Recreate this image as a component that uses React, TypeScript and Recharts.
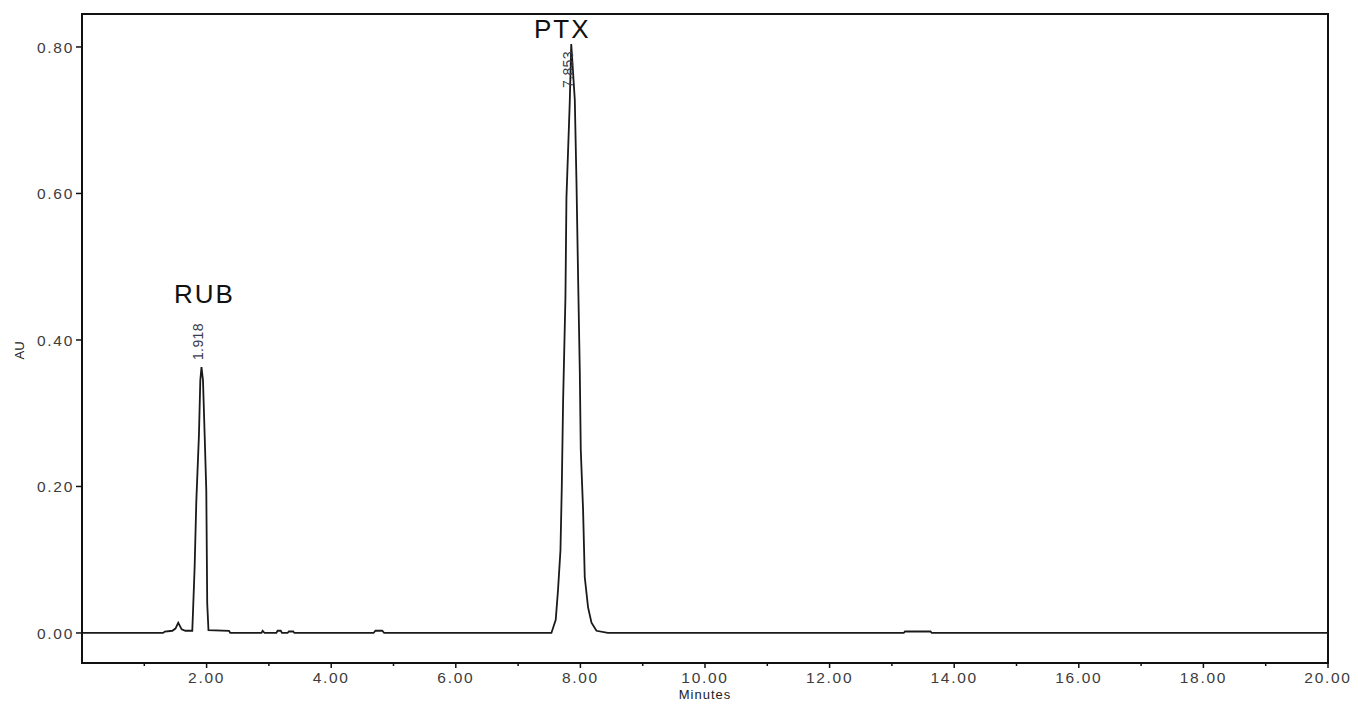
import React from "react";
import {
  LineChart,
  Line,
  XAxis,
  YAxis,
  ReferenceDot,
  ReferenceArea,
} from "recharts";

// retention time (min) and absorbance (AU)
const minutes = [
  0.0, 1.3, 1.33, 1.45, 1.5, 1.545, 1.6, 1.66, 1.77, 1.781, 1.808, 1.835, 1.877,
  1.899, 1.918, 1.942, 1.969, 1.995, 2.01, 2.03, 2.36, 2.38, 2.88, 2.9, 2.93,
  3.12, 3.14, 3.19, 3.21, 3.3, 3.32, 3.39, 3.41, 4.68, 4.71, 4.82, 4.85, 7.535,
  7.604, 7.641, 7.68, 7.701, 7.722, 7.76, 7.776, 7.829, 7.853, 7.91, 7.937,
  7.963, 7.99, 8.006, 8.043, 8.07, 8.123, 8.178, 8.258, 8.44, 13.19, 13.21,
  13.62, 13.64, 20.0,
];
const au = [
  0.0, 0.0, 0.002, 0.003, 0.006, 0.014, 0.005, 0.003, 0.003, 0.027, 0.09, 0.18,
  0.27, 0.345, 0.363, 0.345, 0.27, 0.195, 0.04, 0.004, 0.003, 0.0, 0.0, 0.003,
  0.0, 0.0, 0.003, 0.003, 0.0, 0.0, 0.002, 0.002, 0.0, 0.0, 0.003, 0.003, 0.0,
  0.0, 0.018, 0.059, 0.113, 0.198, 0.315, 0.459, 0.594, 0.724, 0.804, 0.728,
  0.616, 0.486, 0.359, 0.25, 0.168, 0.076, 0.035, 0.014, 0.003, 0.0, 0.0,
  0.002, 0.002, 0.0, 0.0,
];

const peakNames = ["RUB", "PTX"];
const peakTimes = [1.918, 7.853];
const peakHeights = [0.363, 0.804];

const xTicks = [1, 2, 3, 4, 5, 6, 7, 8, 9, 10, 11, 12, 13, 14, 15, 16, 17, 18, 19, 20];
const yTicks = [0, 0.2, 0.4, 0.6, 0.8];
const xDomain = [0, 20];
const yDomain = [-0.041, 0.845];

const data = minutes.map((t, i) => ({ t, v: au[i] }));

const PLOT_TOP = 14;
const FONT = "'Liberation Sans', Arial, sans-serif";
const TICK_COLOR = "#3c3c3c";

function XTick(props: any) {
  const { x, y, payload } = props;
  const major = payload.value % 2 === 0;
  return (
    <g>
      <line x1={x} y1={y} x2={x} y2={y + (major ? 5 : 3)} stroke="#111" strokeWidth={1.5} />
      {major && (
        <text
          x={x}
          y={y + 20}
          textAnchor="middle"
          fontSize={15.5}
          letterSpacing={1.7}
          fontFamily={FONT}
          fill={TICK_COLOR}
        >
          {payload.value.toFixed(2)}
        </text>
      )}
    </g>
  );
}

function YTick(props: any) {
  const { x, y, payload } = props;
  return (
    <g>
      <line x1={x} y1={y} x2={x - 6} y2={y} stroke="#111" strokeWidth={1.5} />
      <text
        x={x - 8}
        y={y + 6}
        textAnchor="end"
        fontSize={15.5}
        letterSpacing={1.7}
        fontFamily={FONT}
        fill={TICK_COLOR}
      >
        {payload.value.toFixed(2)}
      </text>
    </g>
  );
}

function PeakLabel(props: any) {
  const { viewBox, name, time } = props;
  const cx = viewBox.x + viewBox.width / 2;
  const cy = viewBox.y + viewBox.height / 2;
  // retention time goes above the apex unless it would leave the plot
  const room = cy - PLOT_TOP > 60;
  const start = room ? cy - 7 : cy + 44;
  const nameY = room ? cy - 64 : cy - 6;
  const nameX = room ? cx + 3 : cx - 9;
  const tx = cx + 2;
  return (
    <g>
      <text
        x={tx}
        y={start}
        transform={`rotate(-90 ${tx} ${start})`}
        fontSize={14}
        letterSpacing={0.4}
        fontFamily={FONT}
        fill="#3a3a4c"
      >
        {time.toFixed(3)}
      </text>
      <text
        x={nameX}
        y={nameY}
        textAnchor="middle"
        fontSize={26}
        letterSpacing={2}
        fontFamily={FONT}
        fill="#111"
      >
        {name}
      </text>
    </g>
  );
}

function AxisTitleY(props: any) {
  const { viewBox } = props;
  const x = 24;
  const y = viewBox.y + viewBox.height / 2 + 12;
  return (
    <text
      x={x}
      y={y}
      transform={`rotate(-90 ${x} ${y})`}
      textAnchor="middle"
      fontSize={13}
      fontFamily={FONT}
      fill="#222"
    >
      AU
    </text>
  );
}

function AxisTitleX(props: any) {
  const { viewBox } = props;
  return (
    <text
      x={viewBox.x + viewBox.width / 2}
      y={699}
      textAnchor="middle"
      fontSize={13}
      letterSpacing={1}
      fontFamily={FONT}
      fill="#222"
    >
      Minutes
    </text>
  );
}

export default function App() {
  return (
    <div style={{ position: "absolute", left: 0, top: 0, background: "#fff" }}>
      <LineChart
        width={1358}
        height={706}
        data={data}
        margin={{ top: PLOT_TOP, right: 30, left: 0, bottom: 0 }}
      >
        <XAxis
          dataKey="t"
          type="number"
          domain={xDomain}
          ticks={xTicks}
          interval={0}
          tickSize={0}
          tickMargin={0}
          tickLine={false}
          tick={<XTick />}
          height={43}
          axisLine={{ stroke: "#111", strokeWidth: 2 }}
          allowDataOverflow
          label={<AxisTitleX />}
        />
        <YAxis
          type="number"
          domain={yDomain}
          ticks={yTicks}
          interval={0}
          tickSize={0}
          tickMargin={0}
          tickLine={false}
          tick={<YTick />}
          width={82}
          axisLine={{ stroke: "#111", strokeWidth: 2 }}
          allowDataOverflow
          label={<AxisTitleY />}
        />
        {/* plot frame */}
        <ReferenceArea
          x1={xDomain[0]}
          x2={xDomain[1]}
          y1={yDomain[0]}
          y2={yDomain[1]}
          fill="none"
          fillOpacity={0}
          stroke="#111"
          strokeWidth={2}
          ifOverflow="visible"
        />
        <Line
          dataKey="v"
          type="linear"
          stroke="#1a1a1a"
          strokeWidth={1.8}
          dot={false}
          activeDot={false}
          isAnimationActive={false}
        />
        {peakNames.map((name, i) => (
          <ReferenceDot
            key={name}
            x={peakTimes[i]}
            y={peakHeights[i]}
            r={1}
            fill="none"
            stroke="none"
            label={<PeakLabel name={name} time={peakTimes[i]} />}
          />
        ))}
      </LineChart>
    </div>
  );
}
